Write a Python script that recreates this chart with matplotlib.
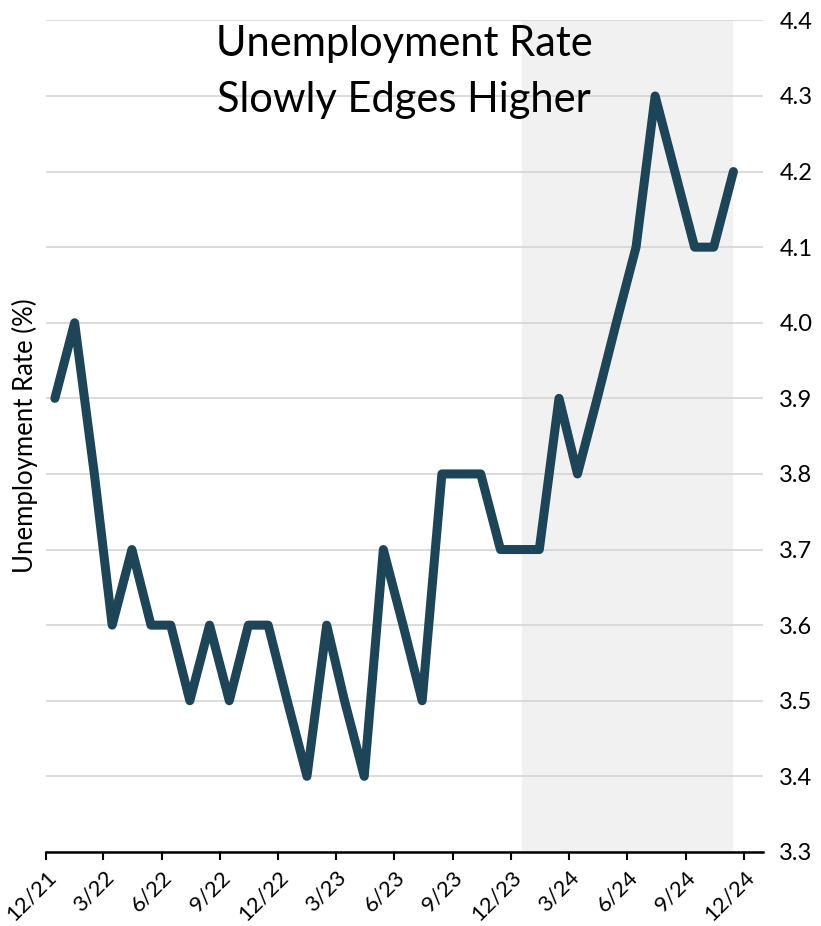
import matplotlib.pyplot as plt
import pandas as pd

plt.rcParams['font.family'] = ['Lato', 'DejaVu Sans']

# monthly unemployment rate, Dec 2021 - Nov 2024 (plotted mid-month)
months = pd.date_range('2021-12-01', '2024-11-01', freq='MS') + pd.Timedelta(days=14)
rate = [3.9, 4.0, 3.8, 3.6, 3.7, 3.6, 3.6, 3.5, 3.6, 3.5, 3.6, 3.6,
        3.5, 3.4, 3.6, 3.5, 3.4, 3.7, 3.6, 3.5, 3.8, 3.8, 3.8, 3.7,
        3.7, 3.7, 3.9, 3.8, 3.9, 4.0, 4.1, 4.3, 4.2, 4.1, 4.1, 4.2]

shade_start = pd.Timestamp('2023-12-19')
tick_dates = pd.date_range('2021-12-01', '2024-12-01', freq='3MS')
tick_labels = [f'{d.month}/{d.year % 100}' for d in tick_dates]

fig = plt.figure(figsize=(8.21, 9.26), dpi=100)
ax = fig.add_axes([0.056, 0.080, 0.873, 0.898])

ax.axvspan(shade_start, months[-1], color='#f1f1f1', zorder=0, lw=0)
ax.plot(months, rate, color='#1d4457', lw=6.5, solid_joinstyle='round',
        solid_capstyle='round', zorder=3)

ax.set_ylim(3.3, 4.4)
ax.set_xlim(pd.Timestamp('2021-12-01'), pd.Timestamp('2024-12-31'))
ax.set_yticks([3.3 + 0.1 * i for i in range(12)])
ax.set_yticklabels([f'{3.3 + 0.1 * i:.1f}' for i in range(12)])
ax.yaxis.tick_right()
ax.tick_params(axis='y', length=0, labelsize=17, pad=12)
ax.grid(axis='y', color='#d5d5d5', lw=1.2, zorder=1)

ax.set_xticks(tick_dates)
ax.set_xticklabels(tick_labels, rotation=45, ha='right', rotation_mode='anchor')
ax.tick_params(axis='x', length=6, width=1.5, labelsize=16, pad=5)

for s in ['left', 'right', 'top']:
    ax.spines[s].set_visible(False)
ax.spines['bottom'].set_linewidth(1.8)

ax.set_ylabel('Unemployment Rate (%)', fontsize=18.5)
ax.yaxis.set_label_position('left')
ax.yaxis.labelpad = 6

ax.text(0.50, 0.995, 'Unemployment Rate\nSlowly Edges Higher', transform=ax.transAxes,
        ha='center', va='top', fontsize=30, linespacing=1.6, zorder=4)

fig.savefig('out.png', dpi=100)
